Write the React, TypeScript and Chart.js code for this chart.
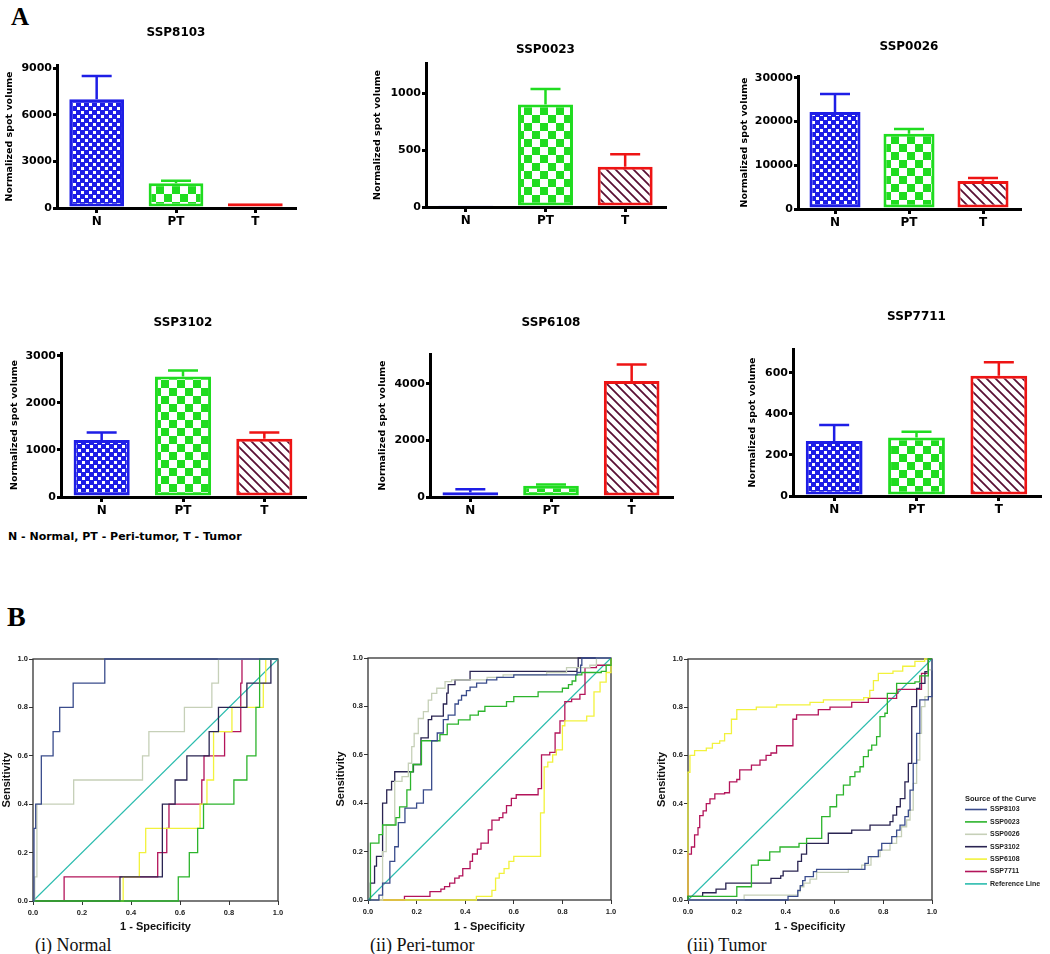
import React, { useEffect, useRef } from 'react';
import { Chart, registerables } from 'chart.js';

Chart.register(...registerables);

// ---------------- DATA ----------------
const categories = ['N', 'PT', 'T'];

const ssp8103Mean = [7000, 1600, 300];
const ssp8103Sem = [1500, 150, 0];
const ssp0023Mean = [12, 905, 355];
const ssp0023Sem = [0, 135, 110];
const ssp0026Mean = [22200, 17200, 6400];
const ssp0026Sem = [4100, 1100, 700];
const ssp3102Mean = [1210, 2560, 1240];
const ssp3102Sem = [160, 130, 130];
const ssp6108Mean = [170, 400, 4100];
const ssp6108Sem = [100, 40, 580];
const ssp7711Mean = [268, 285, 585];
const ssp7711Sem = [77, 27, 65];

const barTitles = ['SSP8103', 'SSP0023', 'SSP0026', 'SSP3102', 'SSP6108', 'SSP7711'];
const barMax = [9200, 1270, 30400, 3060, 5050, 715];
const ssp8103Ticks = [0, 3000, 6000, 9000];
const ssp0023Ticks = [0, 500, 1000];
const ssp0026Ticks = [0, 10000, 20000, 30000];
const ssp3102Ticks = [0, 1000, 2000, 3000];
const ssp6108Ticks = [0, 2000, 4000];
const ssp7711Ticks = [0, 200, 400, 600];
const barTicks = [ssp8103Ticks, ssp0023Ticks, ssp0026Ticks, ssp3102Ticks, ssp6108Ticks, ssp7711Ticks];

const rocSeriesNames = ['SSP8103', 'SSP0023', 'SSP0026', 'SSP3102', 'SSP6108', 'SSP7711'];
const rocTicks = [0, 0.2, 0.4, 0.6, 0.8, 1.0];
const referenceLine = [[0, 0], [1, 1]];

// (i) Normal
const normalSSP8103 = [[0, 0], [0.004, 0.3], [0.011, 0.4], [0.034, 0.6], [0.082, 0.7], [0.109, 0.8], [0.164, 0.9], [0.293, 1.0], [1, 1]];
const normalSSP0023 = [[0, 0], [0.593, 0.1], [0.638, 0.2], [0.672, 0.3], [0.696, 0.4], [0.82, 0.5], [0.873, 0.6], [0.91, 0.8], [0.925, 1.0], [1, 1]];
const normalSSP0026 = [[0, 0], [0.007, 0.1], [0.016, 0.4], [0.166, 0.5], [0.447, 0.6], [0.473, 0.7], [0.618, 0.8], [0.73, 0.9], [0.757, 1.0], [1, 1]];
const normalSSP3102 = [[0, 0], [0.355, 0.1], [0.528, 0.4], [0.58, 0.5], [0.628, 0.6], [0.719, 0.7], [0.757, 0.8], [0.873, 0.9], [0.971, 1.0], [1, 1]];
const normalSSP6108 = [[0, 0], [0.368, 0.1], [0.434, 0.2], [0.46, 0.3], [0.682, 0.4], [0.71, 0.5], [0.737, 0.7], [0.812, 0.8], [0.94, 0.9], [0.95, 1.0], [1, 1]];
const normalSSP7711 = [[0, 0], [0.127, 0.1], [0.509, 0.2], [0.546, 0.3], [0.555, 0.4], [0.689, 0.5], [0.698, 0.6], [0.782, 0.7], [0.848, 0.9], [0.853, 1.0], [1, 1]];

// (ii) Peri-tumor
const periSSP8103 = [[0, 0], [0.045, 0.02], [0.06, 0.07], [0.09, 0.16], [0.11, 0.22], [0.125, 0.32], [0.152, 0.38], [0.2, 0.4], [0.228, 0.455], [0.262, 0.658], [0.285, 0.69], [0.31, 0.745], [0.33, 0.764], [0.358, 0.81], [0.372, 0.826], [0.385, 0.845], [0.405, 0.865], [0.42, 0.88], [0.447, 0.896], [0.488, 0.91], [0.53, 0.92], [0.6, 0.93], [0.86, 0.94], [0.875, 0.97], [0.88, 1.0], [1, 1]];
const periSSP0023 = [[0, 0], [0.01, 0.235], [0.045, 0.27], [0.06, 0.31], [0.115, 0.34], [0.13, 0.385], [0.16, 0.455], [0.175, 0.53], [0.185, 0.56], [0.22, 0.658], [0.296, 0.683], [0.326, 0.727], [0.372, 0.744], [0.42, 0.764], [0.454, 0.78], [0.481, 0.8], [0.57, 0.82], [0.6, 0.84], [0.7, 0.86], [0.8, 0.875], [0.825, 0.89], [0.84, 0.905], [0.855, 0.93], [0.88, 0.94], [0.96, 0.945], [0.98, 0.97], [1, 1]];
const periSSP0026 = [[0, 0], [0.06, 0.2], [0.075, 0.31], [0.11, 0.49], [0.14, 0.51], [0.166, 0.565], [0.18, 0.634], [0.19, 0.688], [0.207, 0.75], [0.228, 0.778], [0.248, 0.826], [0.262, 0.854], [0.283, 0.875], [0.317, 0.902], [0.344, 0.91], [0.49, 0.92], [0.556, 0.93], [0.735, 0.94], [0.817, 0.96], [0.913, 0.97], [0.94, 1.0], [1, 1]];
const periSSP3102 = [[0, 0], [0.01, 0.07], [0.027, 0.14], [0.035, 0.18], [0.06, 0.4], [0.077, 0.455], [0.097, 0.49], [0.11, 0.53], [0.187, 0.56], [0.218, 0.67], [0.248, 0.745], [0.262, 0.76], [0.31, 0.81], [0.324, 0.855], [0.33, 0.89], [0.358, 0.91], [0.42, 0.945], [0.86, 0.96], [0.865, 1.0], [1, 1]];
const periSSP6108 = [[0, 0], [0.446, 0.015], [0.51, 0.04], [0.525, 0.09], [0.54, 0.11], [0.56, 0.13], [0.58, 0.16], [0.6, 0.18], [0.71, 0.36], [0.725, 0.55], [0.74, 0.57], [0.76, 0.6], [0.775, 0.62], [0.8, 0.72], [0.81, 0.74], [0.9, 0.76], [0.93, 0.86], [0.955, 0.9], [0.98, 0.94], [1, 0.96], [1, 1]];
const periSSP7711 = [[0, 0], [0.15, 0.015], [0.255, 0.035], [0.3, 0.045], [0.315, 0.055], [0.336, 0.07], [0.357, 0.09], [0.375, 0.1], [0.39, 0.13], [0.42, 0.16], [0.43, 0.19], [0.45, 0.21], [0.465, 0.235], [0.495, 0.29], [0.51, 0.33], [0.54, 0.34], [0.555, 0.36], [0.57, 0.39], [0.59, 0.42], [0.61, 0.435], [0.7, 0.46], [0.714, 0.6], [0.748, 0.61], [0.77, 0.69], [0.79, 0.74], [0.81, 0.82], [0.838, 0.83], [0.872, 0.85], [0.893, 0.96], [0.94, 0.97], [1, 1]];

// (iii) Tumor
const tumorSSP8103 = [[0, 0], [0.41, 0.015], [0.45, 0.04], [0.46, 0.06], [0.47, 0.08], [0.48, 0.097], [0.514, 0.118], [0.527, 0.127], [0.725, 0.152], [0.739, 0.18], [0.78, 0.207], [0.794, 0.235], [0.835, 0.263], [0.855, 0.29], [0.869, 0.311], [0.889, 0.346], [0.903, 0.373], [0.91, 0.456], [0.923, 0.567], [0.937, 0.691], [0.95, 0.83], [0.985, 0.844], [1, 1]];
const tumorSSP0023 = [[0, 0], [0, 0.015], [0.2, 0.055], [0.26, 0.145], [0.288, 0.165], [0.335, 0.2], [0.377, 0.22], [0.455, 0.235], [0.486, 0.256], [0.548, 0.346], [0.582, 0.387], [0.609, 0.436], [0.637, 0.477], [0.664, 0.512], [0.684, 0.532], [0.705, 0.553], [0.719, 0.595], [0.739, 0.622], [0.753, 0.643], [0.773, 0.678], [0.787, 0.761], [0.807, 0.775], [0.817, 0.857], [0.855, 0.899], [0.93, 0.905], [0.95, 0.93], [0.985, 1.0], [1, 1]];
const tumorSSP0026 = [[0, 0], [0.23, 0.02], [0.45, 0.035], [0.46, 0.055], [0.475, 0.07], [0.5, 0.087], [0.527, 0.115], [0.657, 0.127], [0.712, 0.145], [0.75, 0.18], [0.787, 0.207], [0.828, 0.235], [0.855, 0.263], [0.875, 0.304], [0.896, 0.332], [0.91, 0.373], [0.923, 0.484], [0.937, 0.581], [0.95, 0.691], [0.957, 0.802], [0.971, 0.844], [0.985, 0.955], [1, 1]];
const tumorSSP3102 = [[0, 0], [0, 0.015], [0.06, 0.03], [0.115, 0.045], [0.155, 0.07], [0.34, 0.09], [0.38, 0.1], [0.39, 0.12], [0.45, 0.16], [0.465, 0.19], [0.486, 0.235], [0.575, 0.277], [0.671, 0.29], [0.746, 0.311], [0.828, 0.325], [0.84, 0.352], [0.855, 0.387], [0.87, 0.421], [0.889, 0.49], [0.903, 0.567], [0.917, 0.802], [0.937, 0.878], [0.95, 0.899], [0.971, 0.947], [0.985, 1.0], [1, 1]];
const tumorSSP6108 = [[0, 0], [0, 0.53], [0.008, 0.6], [0.027, 0.62], [0.075, 0.63], [0.1, 0.65], [0.13, 0.66], [0.15, 0.69], [0.178, 0.75], [0.2, 0.79], [0.28, 0.8], [0.363, 0.81], [0.5, 0.82], [0.555, 0.83], [0.72, 0.84], [0.745, 0.87], [0.76, 0.91], [0.78, 0.94], [0.84, 0.95], [0.88, 0.97], [0.93, 0.99], [0.97, 1.0], [1, 1]];
const tumorSSP7711 = [[0, 0], [0, 0.19], [0.014, 0.22], [0.027, 0.27], [0.041, 0.3], [0.048, 0.35], [0.062, 0.37], [0.075, 0.4], [0.09, 0.42], [0.11, 0.44], [0.15, 0.445], [0.17, 0.49], [0.2, 0.5], [0.212, 0.54], [0.26, 0.56], [0.295, 0.58], [0.32, 0.6], [0.34, 0.61], [0.363, 0.64], [0.43, 0.75], [0.445, 0.768], [0.534, 0.79], [0.582, 0.8], [0.671, 0.82], [0.739, 0.837], [0.855, 0.857], [0.86, 0.874], [0.957, 0.94], [0.985, 1.0], [1, 1]];

// ---------------- STYLES / LAYOUT ----------------
const BAR_COLORS = ['#1e1ee6', '#20dc20', '#ee1414'];
const ROC_COLORS = ['#3a4c8c', '#2cb42c', '#c6d0b8', '#2a2452', '#f2f23c', '#b3145a'];
const REF_COLOR = '#2bbcae';
const BAR_FONT = 'DejaVu Sans';
const ROC_FONT = 'Liberation Sans';

const BAR_BOXES = [
  { axisX: 57, axisTop: 65, axisBottom: 208, axisRight: 295, titleY: 33, yTitleX: 10 },
  { axisX: 426, axisTop: 63, axisBottom: 207, axisRight: 665, titleY: 50, yTitleX: 378 },
  { axisX: 798, axisTop: 76, axisBottom: 209, axisRight: 1020, titleY: 47, yTitleX: 745 },
  { axisX: 61, axisTop: 353, axisBottom: 497, axisRight: 305, titleY: 323, yTitleX: 15 },
  { axisX: 430, axisTop: 354, axisBottom: 497, axisRight: 672, titleY: 323, yTitleX: 383 },
  { axisX: 793, axisTop: 349, axisBottom: 496, axisRight: 1040, titleY: 317, yTitleX: 753 },
];

const ROC_BOXES = [
  { plotLeft: 33, plotRight: 278, plotTop: 659, plotBottom: 901, yTitleX: 6, xTitleY: 927 },
  { plotLeft: 368, plotRight: 611, plotTop: 658, plotBottom: 900, yTitleX: 341, xTitleY: 927 },
  { plotLeft: 688, plotRight: 932, plotTop: 659, plotBottom: 900, yTitleX: 662, xTitleY: 927 },
];

function makeFill(ctx: CanvasRenderingContext2D, kind: number): any {
  const t = document.createElement('canvas');
  const g = t.getContext('2d') as CanvasRenderingContext2D;
  if (kind === 0) {
    t.width = 8; t.height = 8;
    g.fillStyle = BAR_COLORS[0]; g.fillRect(0, 0, 8, 8);
    g.fillStyle = '#ffffff'; g.fillRect(1, 1, 3, 3); g.fillRect(5, 5, 3, 3);
  } else if (kind === 1) {
    t.width = 16; t.height = 16;
    g.fillStyle = BAR_COLORS[1]; g.fillRect(0, 0, 16, 16);
    g.fillStyle = '#ffffff'; g.fillRect(0, 0, 8, 8); g.fillRect(8, 8, 8, 8);
  } else {
    t.width = 9; t.height = 9;
    g.fillStyle = '#ffffff'; g.fillRect(0, 0, 9, 9);
    g.strokeStyle = '#5a1035'; g.lineWidth = 1.8;
    g.beginPath();
    g.moveTo(-1, -1); g.lineTo(10, 10);
    g.moveTo(-1, 8); g.lineTo(1, 10);
    g.moveTo(8, -1); g.lineTo(10, 1);
    g.stroke();
  }
  return ctx.createPattern(t, 'repeat');
}

function errorBarPlugin(sems: number[]) {
  return {
    id: 'errorBars',
    afterDatasetsDraw(chart: any) {
      const { ctx } = chart;
      const yScale = chart.scales.y;
      const ds = chart.data.datasets[0];
      const meta = chart.getDatasetMeta(0);
      meta.data.forEach((bar: any, i: number) => {
        const e = sems[i];
        if (!e) return;
        const v = ds.data[i] as number;
        const yErr = yScale.getPixelForValue(v + e);
        ctx.save();
        ctx.strokeStyle = BAR_COLORS[i];
        ctx.lineWidth = 2.5;
        ctx.beginPath();
        ctx.moveTo(bar.x, bar.y);
        ctx.lineTo(bar.x, yErr);
        ctx.moveTo(bar.x - 15, yErr);
        ctx.lineTo(bar.x + 15, yErr);
        ctx.stroke();
        ctx.restore();
      });
    },
  };
}

function BarPanel({ idx, means, sems }: { idx: number; means: number[]; sems: number[] }) {
  const ref = useRef<HTMLCanvasElement>(null);
  const box = BAR_BOXES[idx];
  const titleSize = 12;
  const yTitleSize = 9.5;
  const titleLH = titleSize * 1.2;
  const yTitleLH = yTitleSize * 1.2;
  const left = Math.max(0, Math.round(box.yTitleX - yTitleLH / 2));
  const top = Math.round(box.titleY - titleLH / 2);
  const xAxisH = 26;
  const padRight = 4;
  const width = box.axisRight + padRight - left;
  const height = box.axisBottom + xAxisH - top;
  const yAxisW = box.axisX - left;
  const titleGap = box.axisTop - top - titleLH;

  useEffect(() => {
    const canvas = ref.current as HTMLCanvasElement;
    const ctx = canvas.getContext('2d') as CanvasRenderingContext2D;
    const fills = [makeFill(ctx, 0), makeFill(ctx, 1), makeFill(ctx, 2)];
    const tickValues = barTicks[idx];
    const chart = new Chart(canvas, {
      type: 'bar',
      data: {
        labels: categories,
        datasets: [{
          data: means,
          backgroundColor: fills,
          borderColor: BAR_COLORS,
          borderWidth: 3,
          borderSkipped: false,
          categoryPercentage: 1,
          barPercentage: 0.69,
        }],
      },
      options: {
        responsive: false,
        animation: false,
        devicePixelRatio: 1,
        layout: { padding: { left: 0, top: 0, right: padRight, bottom: 0 } },
        plugins: {
          legend: { display: false },
          tooltip: { enabled: false },
          title: {
            display: true,
            text: barTitles[idx],
            fullSize: false,
            color: '#000',
            font: { family: BAR_FONT, size: titleSize, weight: 'bold' },
            padding: { top: 0, bottom: titleGap },
          },
        },
        scales: {
          x: {
            grid: { display: true, offset: false, drawOnChartArea: false, drawTicks: true, tickLength: 5, lineWidth: 3, color: '#000' },
            border: { display: true, width: 3, color: '#000' },
            ticks: { color: '#000', padding: 2, maxRotation: 0, font: { family: BAR_FONT, size: 12, weight: 'bold' } },
            afterFit: (s: any) => { s.height = xAxisH; },
          },
          y: {
            min: 0,
            max: barMax[idx],
            afterBuildTicks: (s: any) => { s.ticks = tickValues.map((v) => ({ value: v })); },
            grid: { display: true, drawOnChartArea: false, drawTicks: true, tickLength: 4, lineWidth: 3, color: '#000' },
            border: { display: true, width: 3, color: '#000' },
            ticks: {
              color: '#000',
              padding: 1,
              font: { family: BAR_FONT, size: 11, weight: 'bold' },
              callback: (v: any) => String(v),
            },
            title: {
              display: true,
              text: 'Normalized spot volume',
              color: '#000',
              padding: 0,
              font: { family: BAR_FONT, size: yTitleSize, weight: 'bold' },
            },
            afterFit: (s: any) => { s.width = yAxisW; },
          },
        },
      } as any,
      plugins: [errorBarPlugin(sems)],
    });
    return () => chart.destroy();
  }, []);

  return (
    <canvas ref={ref} width={width} height={height}
      style={{ position: 'absolute', left, top, width, height }} />
  );
}

const rocBoxPlugin = {
  id: 'rocBox',
  beforeDatasetsDraw(chart: any) {
    const { ctx, chartArea: a } = chart;
    ctx.save();
    ctx.strokeStyle = '#333';
    ctx.lineWidth = 1.3;
    ctx.strokeRect(a.left, a.top, a.right - a.left, a.bottom - a.top);
    ctx.restore();
  },
};

const rocLegendPlugin = {
  id: 'rocLegend',
  afterDraw(chart: any, _args: any, opts: any) {
    if (!opts || !opts.show) return;
    const { ctx, chartArea: a } = chart;
    const x0 = a.right + 33;
    ctx.save();
    ctx.fillStyle = '#222';
    ctx.textBaseline = 'middle';
    ctx.font = `bold 7.5px ${ROC_FONT}`;
    ctx.fillText('Source of the Curve', x0, a.top + 140);
    ctx.font = `bold 7px ${ROC_FONT}`;
    chart.data.datasets.forEach((ds: any, i: number) => {
      const y = a.top + 150.5 + i * 12.4;
      ctx.strokeStyle = ds.borderColor;
      ctx.lineWidth = 1.6;
      ctx.beginPath();
      ctx.moveTo(x0, y);
      ctx.lineTo(x0 + 22, y);
      ctx.stroke();
      ctx.fillText(ds.label, x0 + 25, y);
    });
    ctx.restore();
  },
};

function RocPanel({ idx, curves, legend }: { idx: number; curves: number[][][]; legend: boolean }) {
  const ref = useRef<HTMLCanvasElement>(null);
  const box = ROC_BOXES[idx];
  const titleSize = 11;
  const titleLH = titleSize * 1.2;
  const left = Math.max(0, Math.round(box.yTitleX - titleLH / 2));
  const padTop = 8;
  const top = box.plotTop - padTop;
  const padRight = legend ? 1050 - box.plotRight : 10;
  const width = box.plotRight + padRight - left;
  const bottom = Math.round(box.xTitleY + titleLH / 2);
  const height = bottom - top;
  const yAxisW = box.plotLeft - left;
  const xAxisH = bottom - box.plotBottom;

  useEffect(() => {
    const canvas = ref.current as HTMLCanvasElement;
    const datasets: any[] = curves.map((pts, i) => ({
      label: rocSeriesNames[i],
      data: pts.map((p) => ({ x: p[0], y: p[1] })),
      borderColor: ROC_COLORS[i],
      backgroundColor: ROC_COLORS[i],
      borderWidth: 1.3,
      stepped: 'before',
      showLine: true,
      pointRadius: 0,
      fill: false,
      clip: false,
    }));
    datasets.push({
      label: 'Reference Line',
      data: referenceLine.map((p) => ({ x: p[0], y: p[1] })),
      borderColor: REF_COLOR,
      backgroundColor: REF_COLOR,
      borderWidth: 1.1,
      showLine: true,
      pointRadius: 0,
      fill: false,
      clip: false,
    });
    const axisCommon = (title: string, isX: boolean) => ({
      type: 'linear',
      min: 0,
      max: 1,
      afterBuildTicks: (s: any) => { s.ticks = rocTicks.map((v) => ({ value: v })); },
      grid: { display: true, drawOnChartArea: false, drawTicks: true, tickLength: 4, lineWidth: 1, color: '#333' },
      border: { display: false },
      ticks: {
        color: '#222',
        padding: isX ? 3 : 1,
        maxRotation: 0,
        font: { family: ROC_FONT, size: 7.5, weight: 'bold' },
        callback: (v: any) => Number(v).toFixed(1),
      },
      title: {
        display: true,
        text: title,
        color: '#111',
        padding: 0,
        font: { family: ROC_FONT, size: titleSize, weight: 'bold' },
      },
      afterFit: (s: any) => { if (isX) s.height = xAxisH; else s.width = yAxisW; },
    });
    const chart = new Chart(canvas, {
      type: 'scatter',
      data: { datasets },
      options: {
        responsive: false,
        animation: false,
        devicePixelRatio: 1,
        layout: { padding: { left: 0, top: padTop, right: padRight, bottom: 0 } },
        plugins: {
          legend: { display: false },
          tooltip: { enabled: false },
          rocLegend: { show: legend },
        },
        scales: {
          x: axisCommon('1 - Specificity', true),
          y: axisCommon('Sensitivity', false),
        },
      } as any,
      plugins: [rocBoxPlugin, rocLegendPlugin],
    });
    return () => chart.destroy();
  }, []);

  return (
    <canvas ref={ref} width={width} height={height}
      style={{ position: 'absolute', left, top, width, height }} />
  );
}

const serif = '"Liberation Serif", "Times New Roman", serif';

export default function App() {
  return (
    <div style={{ position: 'absolute', left: 0, top: 0, width: 1050, height: 954, background: '#fff', overflow: 'hidden' }}>
      <div style={{ position: 'absolute', left: 11, top: 4, font: `bold 25px/25px ${serif}`, color: '#000' }}>A</div>
      <BarPanel idx={0} means={ssp8103Mean} sems={ssp8103Sem} />
      <BarPanel idx={1} means={ssp0023Mean} sems={ssp0023Sem} />
      <BarPanel idx={2} means={ssp0026Mean} sems={ssp0026Sem} />
      <BarPanel idx={3} means={ssp3102Mean} sems={ssp3102Sem} />
      <BarPanel idx={4} means={ssp6108Mean} sems={ssp6108Sem} />
      <BarPanel idx={5} means={ssp7711Mean} sems={ssp7711Sem} />
      <div style={{ position: 'absolute', left: 8, top: 530, font: `bold 11px/14px "DejaVu Sans", sans-serif`, color: '#000', whiteSpace: 'nowrap' }}>
        N - Normal, PT - Peri-tumor, T - Tumor
      </div>
      <div style={{ position: 'absolute', left: 7, top: 603, font: `bold 28px/28px ${serif}`, color: '#000' }}>B</div>
      <RocPanel idx={0} legend={false} curves={[normalSSP8103, normalSSP0023, normalSSP0026, normalSSP3102, normalSSP6108, normalSSP7711]} />
      <RocPanel idx={1} legend={false} curves={[periSSP8103, periSSP0023, periSSP0026, periSSP3102, periSSP6108, periSSP7711]} />
      <RocPanel idx={2} legend={true} curves={[tumorSSP8103, tumorSSP0023, tumorSSP0026, tumorSSP3102, tumorSSP6108, tumorSSP7711]} />
      <div style={{ position: 'absolute', left: 35, top: 935, font: `18px/20px ${serif}`, color: '#111', whiteSpace: 'nowrap' }}>(i) Normal</div>
      <div style={{ position: 'absolute', left: 370, top: 935, font: `18px/20px ${serif}`, color: '#111', whiteSpace: 'nowrap' }}>(ii) Peri-tumor</div>
      <div style={{ position: 'absolute', left: 687, top: 935, font: `18px/20px ${serif}`, color: '#111', whiteSpace: 'nowrap' }}>(iii) Tumor</div>
    </div>
  );
}
